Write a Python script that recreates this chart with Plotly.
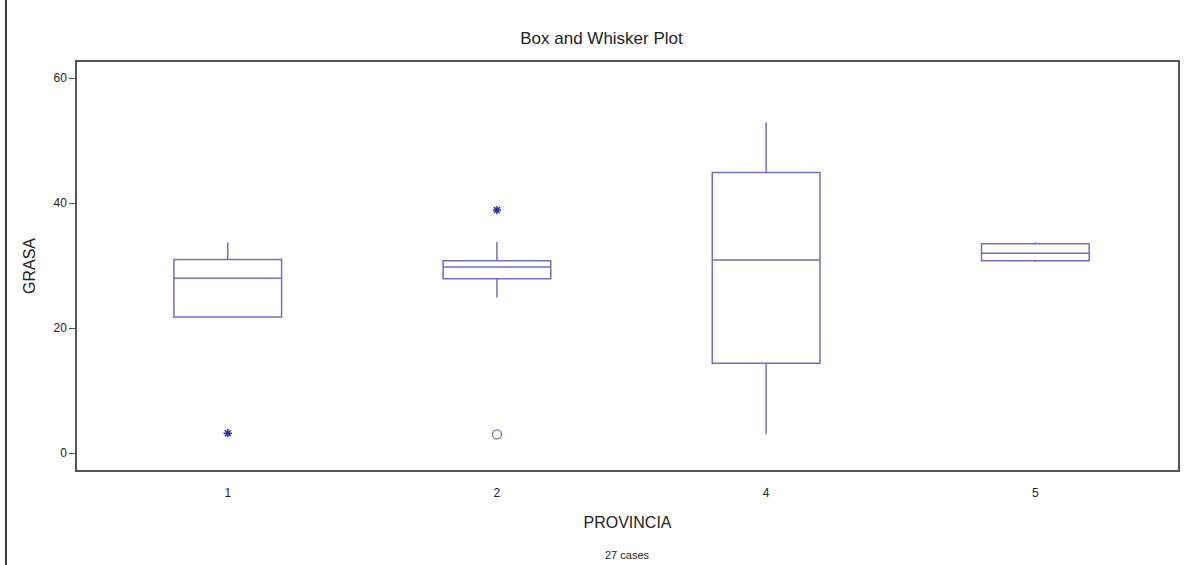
import plotly.graph_objects as go

# Data
provincias = ["1", "2", "4", "5"]
q1 = [21.8, 27.9, 14.4, 30.8]
medians = [28.0, 29.8, 30.9, 32.0]
q3 = [31.0, 30.8, 44.9, 33.5]
lower_whisker = [21.8, 24.9, 3.1, 30.6]
upper_whisker = [33.7, 33.8, 52.9, 33.8]

far_outlier_x = ["1", "2"]
far_outlier_y = [3.2, 38.9]
near_outlier_x = ["2"]
near_outlier_y = [3.0]

BOX_COLOR = "#6f6fc4"
STAR_COLOR = "#2e2ea6"
FONT = "Liberation Sans, Arial, sans-serif"

fig = go.Figure()
fig.add_trace(go.Box(
    x=provincias,
    q1=q1, median=medians, q3=q3,
    lowerfence=lower_whisker, upperfence=upper_whisker,
    width=0.4,
    whiskerwidth=0,
    fillcolor="rgba(255,255,255,0)",
    line=dict(color=BOX_COLOR, width=1.5),
    boxpoints=False,
    showlegend=False,
    hoverinfo="skip",
))
fig.add_trace(go.Scatter(
    x=far_outlier_x, y=far_outlier_y, mode="markers",
    marker=dict(symbol="asterisk", size=7, color=STAR_COLOR,
                line=dict(color=STAR_COLOR, width=1.5)),
    showlegend=False,
))
fig.add_trace(go.Scatter(
    x=near_outlier_x, y=near_outlier_y, mode="markers",
    marker=dict(symbol="circle-open", size=9, color=BOX_COLOR,
                line=dict(color=BOX_COLOR, width=1.3)),
    showlegend=False,
))

fig.update_layout(
    width=1203, height=565,
    margin=dict(l=77, r=25, t=62, b=95),
    paper_bgcolor="white", plot_bgcolor="white",
    font=dict(family=FONT, color="#222222"),
    title=dict(text="Box and Whisker Plot", x=0.5, xanchor="center",
               y=1 - 38 / 565, yanchor="middle", font=dict(size=17, color="#222222")),
    xaxis=dict(
        type="category", categoryorder="array", categoryarray=provincias,
        range=[-0.56, 3.53],
        showline=True, linecolor="#555555", linewidth=1.5, mirror=True,
        showgrid=False, zeroline=False, ticks="",
        ticklabelstandoff=11,
        tickfont=dict(size=12, color="#222222"),
        title=dict(text="PROVINCIA", font=dict(size=16, color="#222222"), standoff=18),
    ),
    yaxis=dict(
        range=[-2.7, 62.6],
        tickvals=[0, 20, 40, 60],
        showline=True, linecolor="#555555", linewidth=1.5, mirror=True,
        showgrid=False, zeroline=False,
        ticks="outside", ticklen=6, tickcolor="#555555",
        tickfont=dict(size=12, color="#222222"),
        title=dict(text="GRASA", font=dict(size=16, color="#222222"), standoff=14),
    ),
    annotations=[dict(
        text="27 cases", xref="paper", yref="paper",
        x=0.5, y=(470 - 555) / 408, xanchor="center", yanchor="middle",
        showarrow=False, font=dict(size=11, color="#222222"),
    )],
    shapes=[dict(
        type="line", xref="paper", yref="paper",
        x0=(6 - 77) / 1101, x1=(6 - 77) / 1101,
        y0=(470 - 565) / 408, y1=(470 - 0) / 408,
        line=dict(color="black", width=1.5),
    )],
)

fig.write_html(
    "out.html",
    config={"displayModeBar": False},
    post_script="document.body.style.margin='0px';document.body.style.overflow='hidden';",
)
